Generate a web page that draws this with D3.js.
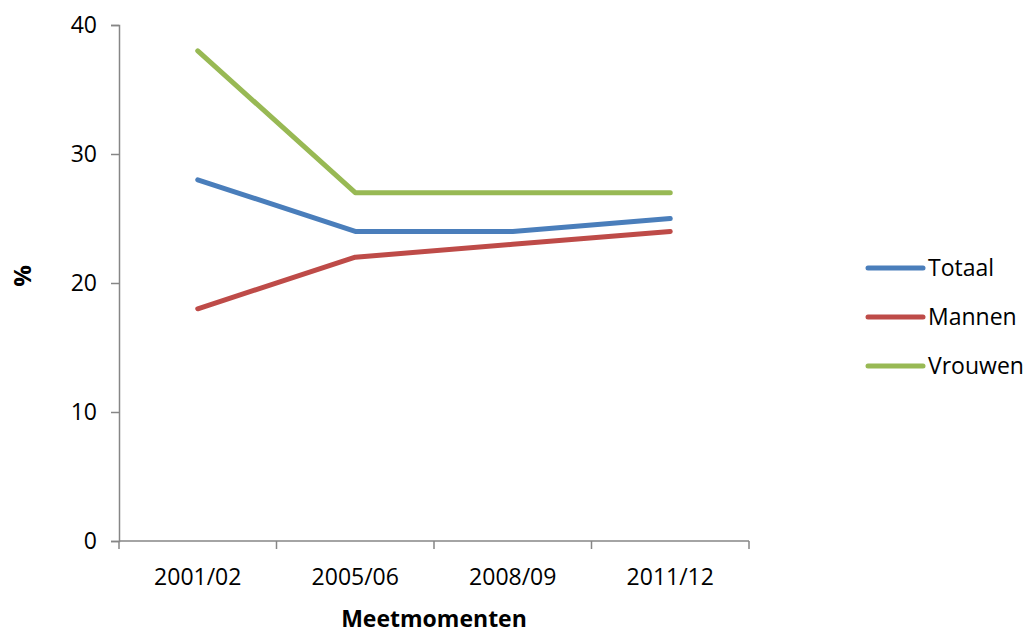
<!DOCTYPE html>
<html>
<head>
<meta charset="utf-8">
<script src="https://cdn.jsdelivr.net/npm/d3@7"></script>
<style>
  body { margin: 0; background: #fff; }
  svg text { font-family: "Open Sans", "Noto Sans", sans-serif; fill: #000; }
</style>
</head>
<body>
<svg id="chart" width="1029" height="635"></svg>
<script>
const categories = ["2001/02", "2005/06", "2008/09", "2011/12"];
const totaal = [28, 24, 24, 25];
const mannen = [18, 22, 23, 24];
const vrouwen = [38, 27, 27, 27];
const yTicks = [0, 10, 20, 30, 40];

const series = [
  { name: "Totaal", values: totaal, color: "#4a7ebb" },
  { name: "Mannen", values: mannen, color: "#be4b48" },
  { name: "Vrouwen", values: vrouwen, color: "#98b954" }
];

const svg = d3.select("#chart");
const plot = { left: 119, right: 749, top: 25, bottom: 541 };
const axisColor = "#868686";
const fontSize = 23;

const x = d3.scaleBand().domain(categories).range([plot.left, plot.right]);
const y = d3.scaleLinear().domain([0, 40]).range([plot.bottom, plot.top]);

// y axis
const yAxis = svg.append("g")
  .attr("transform", `translate(${plot.left},0)`)
  .call(d3.axisLeft(y).tickValues(yTicks).tickSize(8).tickPadding(14));
yAxis.select(".domain").attr("stroke", axisColor).attr("stroke-width", 1.5);
yAxis.selectAll(".tick line").attr("stroke", axisColor).attr("stroke-width", 1.5);
yAxis.selectAll(".tick text").attr("font-size", fontSize).attr("font-family", null);

// x axis with ticks at band boundaries
const xAxis = svg.append("g").attr("transform", `translate(0,${plot.bottom})`);
xAxis.append("line")
  .attr("x1", plot.left).attr("x2", plot.right)
  .attr("stroke", axisColor).attr("stroke-width", 1.5);
const boundaries = categories.map(c => x(c)).concat([plot.right]);
xAxis.selectAll("line.tick")
  .data(boundaries)
  .join("line")
  .attr("class", "tick")
  .attr("x1", d => d).attr("x2", d => d)
  .attr("y1", 0).attr("y2", 8)
  .attr("stroke", axisColor).attr("stroke-width", 1.5);
xAxis.selectAll("text")
  .data(categories)
  .join("text")
  .attr("x", d => x(d) + x.bandwidth() / 2)
  .attr("y", 44)
  .attr("text-anchor", "middle")
  .attr("font-size", fontSize)
  .text(d => d);

// axis titles
svg.append("text")
  .attr("x", (plot.left + plot.right) / 2).attr("y", 627)
  .attr("text-anchor", "middle")
  .attr("font-size", fontSize).attr("font-weight", "bold")
  .text("Meetmomenten");
svg.append("text")
  .attr("transform", `translate(31,276) rotate(-90)`)
  .attr("text-anchor", "middle")
  .attr("font-size", 24).attr("font-weight", "bold")
  .text("%");

// lines
const line = d3.line()
  .x((d, i) => x(categories[i]) + x.bandwidth() / 2)
  .y(d => y(d));
svg.selectAll("path.series")
  .data(series)
  .join("path")
  .attr("class", "series")
  .attr("d", d => line(d.values))
  .attr("fill", "none")
  .attr("stroke", d => d.color)
  .attr("stroke-width", 5)
  .attr("stroke-linejoin", "round")
  .attr("stroke-linecap", "round");

// legend
const legend = svg.append("g");
const lg = legend.selectAll("g")
  .data(series)
  .join("g")
  .attr("transform", (d, i) => `translate(868,${268 + i * 49})`);
lg.append("line")
  .attr("x1", 0).attr("x2", 55)
  .attr("stroke", d => d.color)
  .attr("stroke-width", 5)
  .attr("stroke-linecap", "round");
lg.append("text")
  .attr("x", 60).attr("y", 0).attr("dy", "0.35em")
  .attr("font-size", fontSize)
  .text(d => d.name);
</script>
</body>
</html>
